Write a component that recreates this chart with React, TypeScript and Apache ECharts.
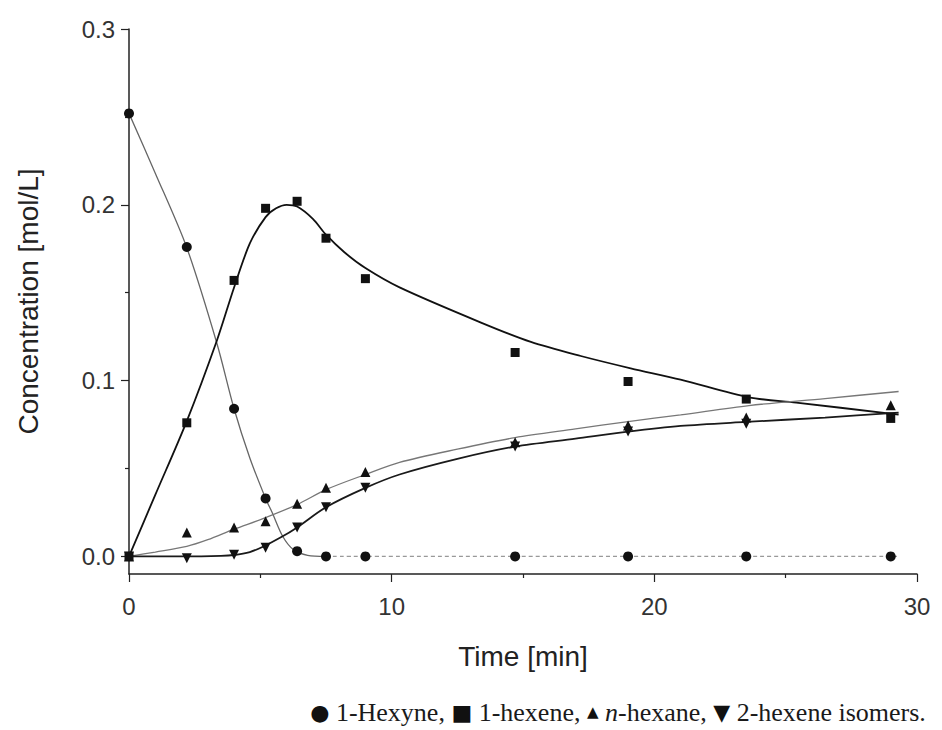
import React, { useEffect, useRef } from "react";
import * as echarts from "echarts";

// Measured time points [min]
const timeMin = [0, 2.2, 4.0, 5.2, 6.4, 7.5, 9.0, 14.7, 19.0, 23.5, 29.0];
// Measured concentrations [mol/L]
const hexyneData = [0.252, 0.176, 0.084, 0.033, 0.003, 0, 0, 0, 0, 0, 0];
const hexene1Data = [0, 0.076, 0.157, 0.198, 0.202, 0.181, 0.158, 0.116, 0.0995, 0.0895, 0.0785];
const nHexaneData = [0, 0.0136, 0.0165, 0.02, 0.03, 0.039, 0.048, 0.065, 0.0745, 0.079, 0.086];
const hexene2Data = [0, -0.001, 0.001, 0.005, 0.0165, 0.028, 0.039, 0.0625, 0.071, 0.0755, 0.079];

// Model curves
const hexyneFitT = [0, 1, 2.2, 3.35, 4.0, 4.6, 5.2, 5.45, 5.85, 6.25, 6.8, 7.5];
const hexyneFit = [0.252, 0.218, 0.1756, 0.121, 0.084, 0.056, 0.033, 0.025, 0.0115, 0.004, 0.0006, 0];
const hexyneTailT = [7.5, 29.3];
const hexyneTail = [0, 0];

const hexene1FitT = [0, 1, 2.2, 3.35, 4.0, 4.6, 5.2, 5.6, 6.0, 6.4, 7.0, 7.5, 8.2, 9.0, 10.3, 13.4, 15.3, 17.2, 19.1, 21.0, 23.6, 25.4, 29.3];
const hexene1Fit = [0, 0.035, 0.077, 0.123, 0.153, 0.178, 0.193, 0.198, 0.2, 0.199, 0.192, 0.183, 0.173, 0.164, 0.153, 0.133, 0.122, 0.114, 0.107, 0.1006, 0.0905, 0.0875, 0.0807];

const nHexaneFitT = [0, 1, 2.2, 3.0, 4.0, 5.1, 6.4, 7.5, 9.0, 10.3, 12.5, 14.7, 17, 19, 21, 23.6, 26.5, 29.3];
const nHexaneFit = [0, 0.0025, 0.0057, 0.0095, 0.0155, 0.0215, 0.0295, 0.038, 0.0466, 0.0535, 0.061, 0.0676, 0.0725, 0.0767, 0.0805, 0.0858, 0.0898, 0.0938];

const hexene2FitT = [0, 2, 3.5, 4.0, 4.6, 5.1, 5.8, 6.4, 7.5, 9.0, 10.3, 12.5, 14.7, 17, 19, 21, 23.5, 26.5, 29.3];
const hexene2Fit = [0, 0, 0.0003, 0.0008, 0.0025, 0.0055, 0.011, 0.0165, 0.028, 0.039, 0.0466, 0.0555, 0.0625, 0.067, 0.071, 0.0742, 0.0765, 0.079, 0.0818];

const yMajorTicks = [0, 0.1, 0.2, 0.3];
const yMinorTicks = [0.05, 0.15, 0.25];

const zip = (xs: number[], ys: number[]) => xs.map((x, i) => [x, ys[i]]);

export default function App() {
  const ref = useRef<HTMLDivElement>(null);
  useEffect(() => {
    if (!ref.current) return;
    const chart = echarts.init(ref.current, null, { renderer: "svg" });
    const sans = "Liberation Sans, Arial, sans-serif";
    const markerStyle = { color: "#111", opacity: 1 };
    const lineSeries = (data: number[][], color: string, width: number, type: any = "solid") => ({
      type: "line",
      data,
      showSymbol: false,
      symbol: "none",
      smooth: 0.3,
      lineStyle: { color, width, type },
      z: 2,
      silent: true,
    });
    const scatter = (data: number[][], symbol: string, size: number, rotate = 0) => ({
      type: "scatter",
      data,
      symbol,
      symbolSize: size,
      symbolRotate: rotate,
      itemStyle: markerStyle,
      z: 5,
    });
    chart.setOption({
      animation: false,
      backgroundColor: "#ffffff",
      grid: { left: 129, right: 25, top: 29, bottom: 156, containLabel: false },
      xAxis: {
        type: "value",
        min: 0,
        max: 30,
        interval: 10,
        name: "Time [min]",
        nameLocation: "middle",
        nameGap: 68,
        nameTextStyle: { fontFamily: sans, fontSize: 28, color: "#222" },
        axisLine: { show: true, onZero: false, lineStyle: { color: "#222", width: 1.5 } },
        axisTick: { show: true, length: 8, inside: false, lineStyle: { color: "#222", width: 1.2 } },
        minorTick: { show: true, splitNumber: 2, length: 4, lineStyle: { color: "#222", width: 1.2 } },
        axisLabel: { fontFamily: sans, fontSize: 24, color: "#333", margin: 20 },
        splitLine: { show: false },
        minorSplitLine: { show: false },
      },
      yAxis: [
        {
          type: "value",
          min: -0.01,
          max: 0.3,
          name: "Concentration [mol/L]",
          nameLocation: "middle",
          nameGap: 87,
          nameTextStyle: { fontFamily: sans, fontSize: 28, color: "#222" },
          axisLine: { show: true, onZero: false, lineStyle: { color: "#222", width: 1.5 } },
          axisTick: { show: true, length: 8, customValues: yMajorTicks, lineStyle: { color: "#222", width: 1.2 } },
          axisLabel: {
            fontFamily: sans,
            fontSize: 24,
            color: "#333",
            margin: 14,
            customValues: yMajorTicks,
            formatter: (v: number) => v.toFixed(1),
          },
          splitLine: { show: false },
        },
        {
          type: "value",
          min: -0.01,
          max: 0.3,
          position: "left",
          axisLine: { show: false },
          axisTick: { show: true, length: 4, customValues: yMinorTicks, lineStyle: { color: "#222", width: 1.2 } },
          axisLabel: { show: false, customValues: yMinorTicks },
          splitLine: { show: false },
        },
      ],
      series: [
        lineSeries(zip(hexyneFitT, hexyneFit), "#666", 1.3),
        lineSeries(zip(hexyneTailT, hexyneTail), "#999", 1.2, [4, 3]),
        lineSeries(zip(hexene1FitT, hexene1Fit), "#111", 1.8),
        lineSeries(zip(nHexaneFitT, nHexaneFit), "#777", 1.3),
        lineSeries(zip(hexene2FitT, hexene2Fit), "#1a1a1a", 1.8),
        scatter(zip(timeMin, hexyneData), "circle", 10),
        scatter(zip(timeMin, hexene1Data), "rect", 9),
        scatter(zip(timeMin, nHexaneData), "triangle", 10),
        scatter(zip(timeMin, hexene2Data), "triangle", 10, 180),
      ],
      graphic: [
        {
          type: "text",
          x: 618,
          y: 712,
          style: {
            text: "{s|●} 1-Hexyne, {s|■} 1-hexene, {t|▲} {i|n}-hexane, {s|▼} 2-hexene isomers.",
            align: "center",
            verticalAlign: "middle",
            fontFamily: "Liberation Serif, Times New Roman, serif",
            fontSize: 26,
            fill: "#1a1a1a",
            rich: {
              s: { fontFamily: "DejaVu Sans", fontSize: 22, fill: "#111" },
              t: { fontFamily: "DejaVu Sans", fontSize: 15, fill: "#111" },
              i: { fontFamily: "Liberation Serif, serif", fontStyle: "italic", fontSize: 26, fill: "#1a1a1a" },
            },
          },
        },
      ],
    });
    return () => chart.dispose();
  }, []);
  return (
    <div
      ref={ref}
      style={{ position: "absolute", left: 0, top: 0, width: 942, height: 730, background: "#fff" }}
    />
  );
}
